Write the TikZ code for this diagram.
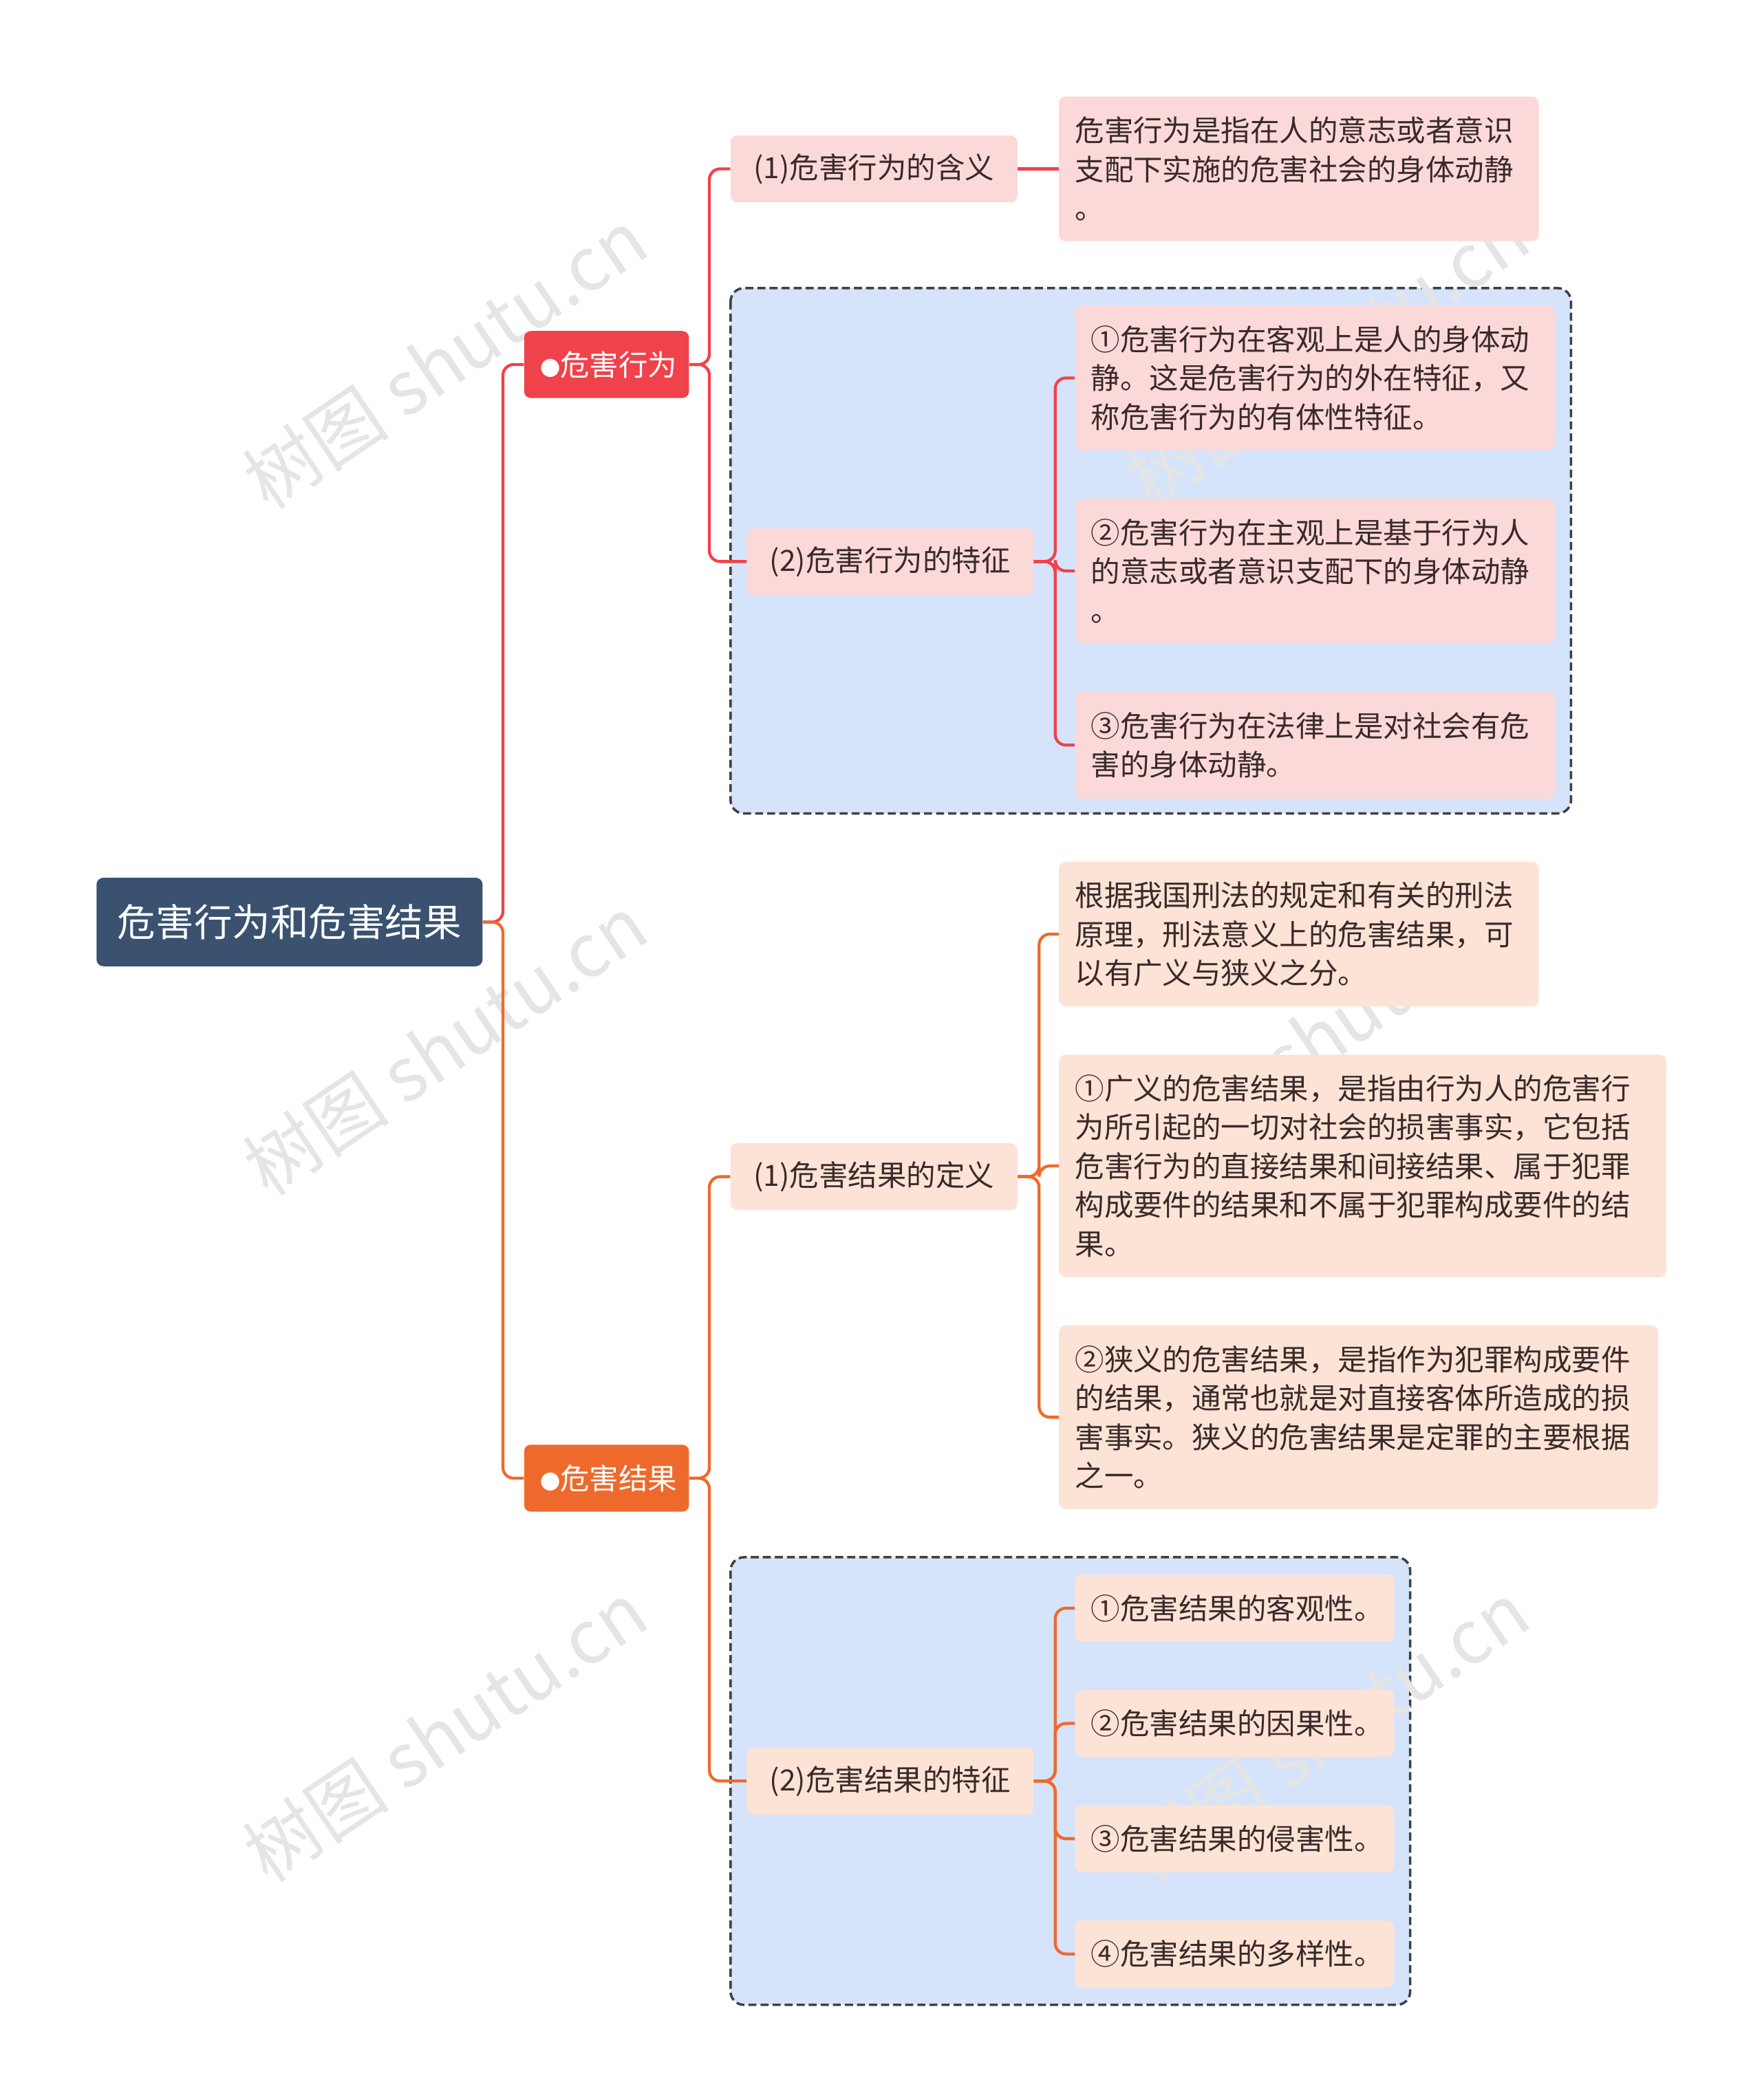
\documentclass[tikz,border=0pt]{standalone}
\usepackage{fontspec}
\setmainfont{Noto Sans CJK SC}
\usetikzlibrary{calc}
\definecolor{rootc}{HTML}{3A5270}
\definecolor{redc}{HTML}{F0424A}
\definecolor{orgc}{HTML}{EE6A2C}
\definecolor{pinkc}{HTML}{FCD9D9}
\definecolor{peachc}{HTML}{FCE3D6}
\definecolor{bluec}{HTML}{D6E4FB}
\definecolor{txtc}{HTML}{3A2A2A}
\tikzset{
  box/.style={rectangle, rounded corners=5pt, inner sep=0pt, align=left, text=txtc, font=\fontsize{21.8}{29}\selectfont},
  rl/.style={draw=redc, line width=2.2pt, rounded corners=8pt},
  ol/.style={draw=orgc, line width=2.2pt, rounded corners=8pt},
  grp/.style={draw=black!75, dash pattern=on 6pt off 3pt, line width=1.8pt, fill=bluec, rounded corners=10pt},
  wm/.style={text=black!10, font=\fontsize{55}{55}\selectfont, rotate=34}
}
\newcommand{\bx}[8][]{%
  \pgfmathsetmacro{\bw}{#5-#3}\pgfmathsetmacro{\bh}{#6-#4}%
  \pgfmathsetmacro{\bcx}{(#3+#5)/2}\pgfmathsetmacro{\bcy}{(#4+#6)/2}%
  \pgfmathsetmacro{\btw}{#5-#3-24}%
  \node[box, fill=#7, minimum width=\bw pt, minimum height=\bh pt, text width=\btw pt, #1] (#2) at (\bcx,\bcy) {#8};}
\newcommand{\dotb}{{\fontsize{15}{15}\selectfont ●}}
\begin{document}
\begin{tikzpicture}[x=1pt,y=-1pt]
\useasboundingbox[fill=white] (0,0) rectangle (1314,1567);
% groups
\draw[grp] (545,215) rectangle (1172,607);
\draw[grp] (545,1162) rectangle (1052,1496);
% watermarks
\foreach \p in {(332,268),(332,780),(332,1292),(990,265),(990,770),(990,1292)}
  \node[wm] at \p {树图 shutu.cn};
% nodes
\bx[text=white, align=center, font=\fontsize{28.5}{34}\selectfont]{root}{72}{655}{360}{721}{rootc}{危害行为和危害结果}
\bx[text=white, align=center]{hw}{391}{247}{514}{297}{redc}{\dotb 危害行为}
\bx[text=white, align=center]{hj}{391}{1078}{514}{1128}{orgc}{\dotb 危害结果}
\bx[align=center]{a1}{545}{101}{759}{151}{pinkc}{(1)危害行为的含义}
\bx{a1d}{790}{72}{1148}{180}{pinkc}{危害行为是指在人的意志或者意识\\支配下实施的危害社会的身体动静\\。}
\bx[align=center]{a2}{557}{394}{771}{444}{pinkc}{(2)危害行为的特征}
\bx{a21}{802}{228}{1160}{336}{pinkc}{①危害行为在客观上是人的身体动\\静。这是危害行为的外在特征，又\\称危害行为的有体性特征。}
\bx{a22}{802}{372}{1160}{480}{pinkc}{②危害行为在主观上是基于行为人\\的意志或者意识支配下的身体动静\\。}
\bx{a23}{802}{516}{1160}{596}{pinkc}{③危害行为在法律上是对社会有危\\害的身体动静。}
\bx[align=center]{b1}{545}{853}{759}{903}{peachc}{(1)危害结果的定义}
\bx{b10}{790}{643}{1148}{751}{peachc}{根据我国刑法的规定和有关的刑法\\原理，刑法意义上的危害结果，可\\以有广义与狭义之分。}
\bx{b11}{790}{787}{1243}{953}{peachc}{①广义的危害结果，是指由行为人的危害行\\为所引起的一切对社会的损害事实，它包括\\危害行为的直接结果和间接结果、属于犯罪\\构成要件的结果和不属于犯罪构成要件的结\\果。}
\bx{b12}{790}{989}{1237}{1126}{peachc}{②狭义的危害结果，是指作为犯罪构成要件\\的结果，通常也就是对直接客体所造成的损\\害事实。狭义的危害结果是定罪的主要根据\\之一。}
\bx[align=center]{b2}{557}{1304}{771}{1354}{peachc}{(2)危害结果的特征}
\bx{b21}{802}{1175}{1040}{1225}{peachc}{①危害结果的客观性。}
\bx{b22}{802}{1261}{1040}{1311}{peachc}{②危害结果的因果性。}
\bx{b23}{802}{1347}{1040}{1397}{peachc}{③危害结果的侵害性。}
\bx{b24}{802}{1433}{1040}{1483}{peachc}{④危害结果的多样性。}
% connectors
\draw[rl] (root.east) -- ++(15,0) |- (hw.west);
\draw[ol] (root.east) -- ++(15,0) |- (hj.west);
\draw[rl] (hw.east) -- ++(15,0) |- (a1.west);
\draw[rl] (hw.east) -- ++(15,0) |- (a2.west);
\draw[rl] (a1.east) -- (a1d.west |- a1.east);
\foreach \t in {a21,a22,a23} \draw[rl] (a2.east) -- ++(16,0) |- (\t.west);
\draw[ol] (hj.east) -- ++(15,0) |- (b1.west);
\draw[ol] (hj.east) -- ++(15,0) |- (b2.west);
\foreach \t in {b10,b11,b12} \draw[ol] (b1.east) -- ++(16,0) |- (\t.west);
\foreach \t in {b21,b22,b23,b24} \draw[ol] (b2.east) -- ++(16,0) |- (\t.west);
\end{tikzpicture}
\end{document}
